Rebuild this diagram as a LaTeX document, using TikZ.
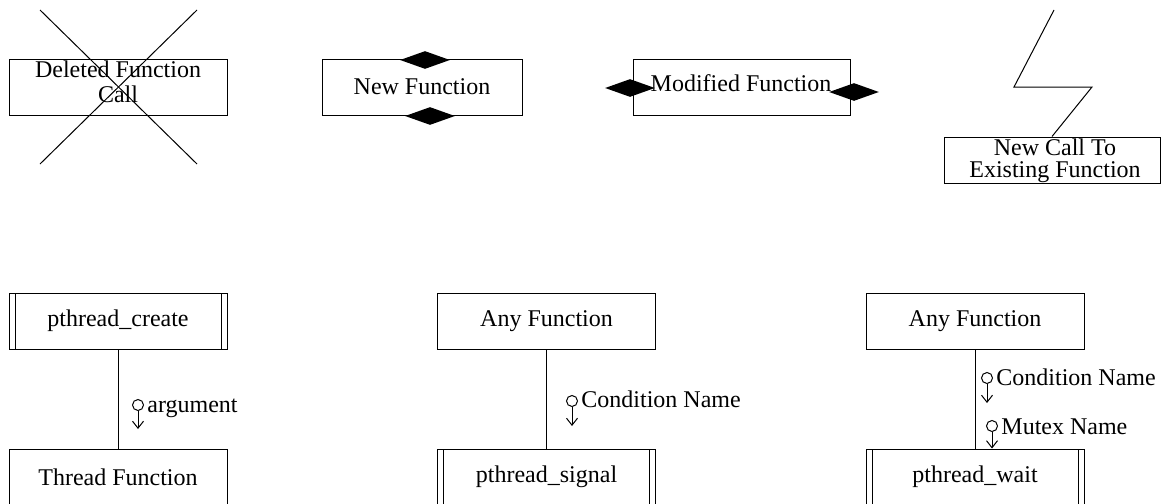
\documentclass[tikz,border=0pt]{standalone}
\usepackage{fontspec}
\setmainfont{Liberation Serif}
\usetikzlibrary{shapes.geometric, arrows.meta}

\tikzset{
  fnbox/.style={draw, line width=0.5pt, minimum width=109pt, minimum height=28pt,
    inner sep=0pt, font=\fontsize{12}{12.5}\selectfont},
  thrbox/.style={fnbox, path picture={
      \draw[line width=0.5pt] ([xshift=3pt]path picture bounding box.north west)
        -- ([xshift=3pt]path picture bounding box.south west);
      \draw[line width=0.5pt] ([xshift=-3pt]path picture bounding box.north east)
        -- ([xshift=-3pt]path picture bounding box.south east);}},
  gem/.style={diamond, fill=black, minimum width=25pt, minimum height=9pt, inner sep=0pt},
  ball/.style={circle, draw, line width=0.5pt, minimum size=5.5pt, inner sep=0pt},
  flow/.style={-{Straight Barb[length=3.5pt, width=5.5pt]}, line width=0.5pt},
  tag/.style={anchor=base west, inner sep=0pt, font=\fontsize{12}{12.5}\selectfont},
  txt/.style={align=center, inner sep=0pt, font=\fontsize{12}{12.5}\selectfont}
}

\begin{document}
\begin{tikzpicture}[x=0.5pt, y=-0.5pt]
    \useasboundingbox (0,0) rectangle (1161,503);

    % top row
    \node[fnbox] (del) at (118,87) {};
    \node[txt] (deltxt) at (118,82) {Deleted Function\\Call};
    \coordinate (x1) at (40,10);
    \coordinate (x2) at (197,164);
    \coordinate (x3) at (197,10);
    \coordinate (x4) at (40,164);
    \draw[line width=0.5pt] (x1) -- (x2);
    \draw[line width=0.5pt] (x3) -- (x4);

    \node[fnbox, minimum width=100pt] (new) at (422,87) {New Function};
    \node[gem] (newtop) at (425,60) {};
    \node[gem] (newbot) at (430,116) {};

    \node[fnbox, minimum width=108.5pt] (mod) at (741.5,87) {};
    \node[txt] (modtxt) at (741,83) {Modified Function};
    \node[gem] (modl) at (630,88) {};
    \node[gem] (modr) at (854,92) {};

    \node[fnbox, minimum width=108pt, minimum height=23pt] (call) at (1052,160) {};
    \node[txt, font=\fontsize{12}{11}\selectfont] (calltxt) at (1055,161) {New Call To\\Existing Function};
    \coordinate (z1) at (1054,10);
    \coordinate (z2) at (1014,87);
    \coordinate (z3) at (1092,87);
    \draw[line width=0.5pt] (z1) -- (z2) -- (z3) -- (call.north);

    % bottom row
    \node[thrbox] (create) at (118,321) {pthread\_create};
    \node[fnbox] (tfun) at (118,477) {Thread Function};
    \draw[line width=0.5pt] (create.south) -- (tfun.north);
    \node[ball] (arg) at (138,405) {};
    \coordinate (argend) at (138,429);
    \draw[flow] (arg.south) -- (argend);
    \node[tag] (argtxt) at (147,412) {argument};

    \node[fnbox] (any1) at (546.5,321) {Any Function};
    \node[thrbox] (sig) at (546.5,477) {pthread\_signal};
    \draw[line width=0.5pt] (any1.south) -- (sig.north);
    \node[ball] (cond1) at (572,401) {};
    \coordinate (cond1end) at (572,426);
    \draw[flow] (cond1.south) -- (cond1end);
    \node[tag] (cond1txt) at (581,407) {Condition Name};

    \node[fnbox] (any2) at (975,321) {Any Function};
    \node[thrbox] (wait) at (975,477) {pthread\_wait};
    \draw[line width=0.5pt] (any2.south) -- (wait.north);
    \node[ball] (cond2) at (987,378) {};
    \coordinate (cond2end) at (987,403);
    \draw[flow] (cond2.south) -- (cond2end);
    \node[tag] (cond2txt) at (996,385) {Condition Name};
    \node[ball] (mutex) at (992,426) {};
    \draw[flow] (mutex.south) -- (mutex.south |- wait.north);
    \node[tag] (mutextxt) at (1001,434) {Mutex Name};
\end{tikzpicture}
\end{document}
